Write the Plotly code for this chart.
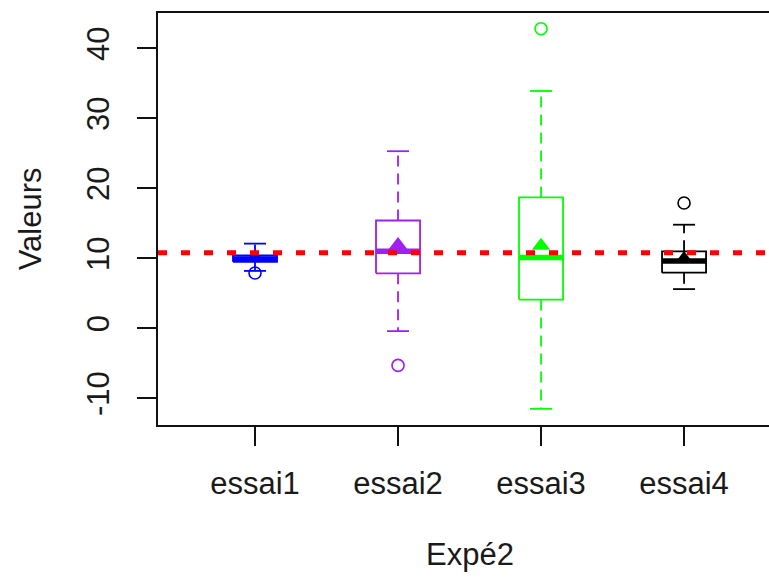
import plotly.graph_objects as go

# Summary statistics per trial (box-plot five numbers, outliers, means)
groups = ["essai1", "essai2", "essai3", "essai4"]
colors = ["#0000FF", "#A020F0", "#00FF00", "#000000"]
lower_whisker = [8.2, -0.4, -11.5, 5.6]
q1 = [9.5, 7.85, 4.1, 7.95]
median = [9.9, 11.0, 10.1, 9.6]
q3 = [10.4, 15.4, 18.7, 11.0]
upper_whisker = [12.1, 25.3, 33.9, 14.8]
outliers = [[7.9], [-5.3], [42.8], [17.9]]
means = [10.1, 11.9, 11.8, 9.9]
overall_mean = 10.8

y_ticks = [-10, 0, 10, 20, 30, 40]
y_tick_text = ["-10", "0", "10", "20", "30", "40"]

half_box = 0.154
half_cap = half_box / 2
font_family = "Liberation Sans, Arial, sans-serif"
text_color = "#1a1a1a"

fig = go.Figure()

for i, name in enumerate(groups):
    x = i + 1
    c = colors[i]
    # whiskers (dashed), drawn outward from the box edges
    fig.add_trace(go.Scatter(x=[x, x], y=[q3[i], upper_whisker[i]], mode="lines",
                             line=dict(color=c, width=1.8, dash="11px,7px"),
                             hoverinfo="skip", showlegend=False))
    fig.add_trace(go.Scatter(x=[x, x], y=[q1[i], lower_whisker[i]], mode="lines",
                             line=dict(color=c, width=1.8, dash="11px,7px"),
                             hoverinfo="skip", showlegend=False))
    # staples
    for w in (upper_whisker[i], lower_whisker[i]):
        fig.add_trace(go.Scatter(x=[x - half_cap, x + half_cap], y=[w, w], mode="lines",
                                 line=dict(color=c, width=1.8),
                                 hoverinfo="skip", showlegend=False))
    # box
    fig.add_trace(go.Scatter(x=[x - half_box, x + half_box, x + half_box, x - half_box, x - half_box],
                             y=[q1[i], q1[i], q3[i], q3[i], q1[i]], mode="lines",
                             line=dict(color=c, width=1.8),
                             hoverinfo="skip", showlegend=False))
    # median
    fig.add_trace(go.Scatter(x=[x - half_box, x + half_box], y=[median[i], median[i]], mode="lines",
                             line=dict(color=c, width=5.5),
                             hoverinfo="skip", showlegend=False))
    # outliers
    fig.add_trace(go.Scatter(x=[x] * len(outliers[i]), y=outliers[i], mode="markers",
                             marker=dict(symbol="circle-open", size=12, color=c,
                                         line=dict(width=1.6, color=c)),
                             hoverinfo="skip", showlegend=False))
    # mean
    fig.add_trace(go.Scatter(x=[x], y=[means[i]], mode="markers",
                             marker=dict(symbol="triangle-up", size=16, color=c,
                                         line=dict(width=0)),
                             hoverinfo="skip", showlegend=False))

# overall mean reference line
fig.add_shape(type="line", xref="paper", yref="y", x0=0, x1=1,
              y0=overall_mean, y1=overall_mean, layer="above",
              line=dict(color="#FF0000", width=5, dash="9px,14px"))

fig.add_annotation(text="Expé2", xref="x", yref="paper", x=2.5, y=-0.315,
                   xanchor="center", yanchor="middle", showarrow=False,
                   font=dict(family=font_family, size=31, color=text_color))
fig.add_annotation(text="Valeurs", xref="paper", yref="paper", x=-0.209, y=0.5,
                   xanchor="center", yanchor="middle", textangle=-90, showarrow=False,
                   font=dict(family=font_family, size=31, color=text_color))

fig.update_layout(
    width=769, height=578,
    margin=dict(l=158, r=0, t=13, b=153),
    paper_bgcolor="white", plot_bgcolor="white",
    font=dict(family=font_family, size=31, color=text_color),
    showlegend=False,
    xaxis=dict(range=[0.3217, 4.594], tickvals=[1, 2, 3, 4], ticktext=groups,
               showgrid=False, zeroline=False, showline=True, mirror=True,
               linecolor="#111111", linewidth=1.6, ticks="outside", ticklen=19,
               tickwidth=1.6, tickcolor="#111111", ticklabelstandoff=11),
    yaxis=dict(range=[-13.81, 45.04], tickvals=y_ticks, ticktext=y_tick_text,
               showgrid=False, zeroline=False, showline=True, mirror=False,
               linecolor="#111111", linewidth=1.6, ticks="outside", ticklen=19,
               tickwidth=1.6, tickcolor="#111111", tickangle=-90, ticklabelstandoff=16),
)

fig.write_html("out.html")
